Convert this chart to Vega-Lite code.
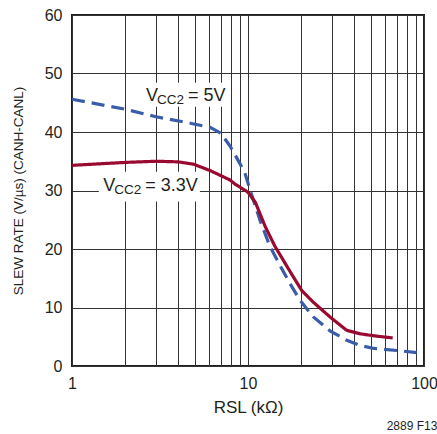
{
  "$schema": "https://vega.github.io/schema/vega-lite/v6.json",
  "width": 352,
  "height": 351,
  "autosize": {"type": "none"},
  "padding": {"left": 72, "top": 15, "right": 13, "bottom": 68},
  "config": {
    "view": {"stroke": "#231f20", "strokeWidth": 2},
    "font": "Liberation Sans",
    "axis": {
      "grid": true, "gridColor": "#333333", "gridWidth": 1, "gridOpacity": 1,
      "domain": false, "ticks": false,
      "labelFont": "Liberation Sans", "labelFontSize": 16, "labelColor": "#231f20",
      "titleFont": "Liberation Sans", "titleFontWeight": "normal", "titleColor": "#231f20"
    }
  },
  "title": {"text": "2889 F13", "orient": "bottom", "anchor": "end", "fontSize": 12, "fontWeight": "normal", "color": "#231f20", "offset": 6, "font": "Liberation Sans"},
  "datasets": {
    "curves": [
      {"series": "5V", "rsl": 1, "slew": 45.6},
      {"series": "5V", "rsl": 2, "slew": 43.9},
      {"series": "5V", "rsl": 3, "slew": 42.6},
      {"series": "5V", "rsl": 4.7, "slew": 41.5},
      {"series": "5V", "rsl": 6.1, "slew": 40.8},
      {"series": "5V", "rsl": 7, "slew": 39.8},
      {"series": "5V", "rsl": 7.9, "slew": 37.6},
      {"series": "5V", "rsl": 9, "slew": 34.6},
      {"series": "5V", "rsl": 9.6, "slew": 33.0},
      {"series": "5V", "rsl": 10.3, "slew": 30},
      {"series": "5V", "rsl": 11.7, "slew": 24.9},
      {"series": "5V", "rsl": 13.3, "slew": 20.5},
      {"series": "5V", "rsl": 15.2, "slew": 17.2},
      {"series": "5V", "rsl": 17.3, "slew": 14.1},
      {"series": "5V", "rsl": 19.8, "slew": 11.2},
      {"series": "5V", "rsl": 23.5, "slew": 8.4},
      {"series": "5V", "rsl": 29.2, "slew": 6.0},
      {"series": "5V", "rsl": 36.4, "slew": 4.4},
      {"series": "5V", "rsl": 43.3, "slew": 3.5},
      {"series": "5V", "rsl": 52, "slew": 3.0},
      {"series": "5V", "rsl": 73, "slew": 2.6},
      {"series": "5V", "rsl": 97, "slew": 2.2},
      {"series": "3.3V", "rsl": 1, "slew": 34.3},
      {"series": "3.3V", "rsl": 2, "slew": 34.8},
      {"series": "3.3V", "rsl": 3, "slew": 35.0},
      {"series": "3.3V", "rsl": 4, "slew": 34.9},
      {"series": "3.3V", "rsl": 4.9, "slew": 34.5},
      {"series": "3.3V", "rsl": 6.1, "slew": 33.4},
      {"series": "3.3V", "rsl": 7.9, "slew": 31.8},
      {"series": "3.3V", "rsl": 8.44, "slew": 31.1},
      {"series": "3.3V", "rsl": 10, "slew": 29.7},
      {"series": "3.3V", "rsl": 11, "slew": 28},
      {"series": "3.3V", "rsl": 12.5, "slew": 23.9},
      {"series": "3.3V", "rsl": 14.2, "slew": 20.5},
      {"series": "3.3V", "rsl": 17.3, "slew": 16.2},
      {"series": "3.3V", "rsl": 20.2, "slew": 12.9},
      {"series": "3.3V", "rsl": 23.5, "slew": 10.9},
      {"series": "3.3V", "rsl": 29.2, "slew": 8.4},
      {"series": "3.3V", "rsl": 36.4, "slew": 6.1},
      {"series": "3.3V", "rsl": 43.3, "slew": 5.5},
      {"series": "3.3V", "rsl": 54, "slew": 5.1},
      {"series": "3.3V", "rsl": 66.4, "slew": 4.8}
    ],
    "labels": [
      {"series": "5V", "rsl": 2.63, "slew": 45.3, "rest": "= 5V", "x1": 2.43, "x2": 7.2, "y1": 44.3, "y2": 48.4},
      {"series": "3.3V", "rsl": 1.506, "slew": 29.9, "rest": "= 3.3V", "x1": 1.42, "x2": 5.33, "y1": 28.1, "y2": 33.2}
    ]
  },
  "layer": [
    {
      "data": {"name": "labels"},
      "mark": {"type": "rect", "fill": "white"},
      "encoding": {
        "x": {"field": "x1", "type": "quantitative", "scale": {"type": "log", "domain": [1, 100], "nice": false}},
        "x2": {"field": "x2"},
        "y": {"field": "y1", "type": "quantitative"},
        "y2": {"field": "y2"}
      }
    },
    {
      "data": {"name": "curves"},
      "mark": {"type": "line", "interpolate": "linear", "strokeWidth": 3.2, "strokeJoin": "round"},
      "encoding": {
        "x": {
          "field": "rsl", "type": "quantitative",
          "scale": {"type": "log", "domain": [1, 100], "nice": false},
          "axis": {
            "values": [1, 2, 3, 4, 5, 6, 7, 8, 9, 10, 20, 30, 40, 50, 60, 70, 80, 90, 100],
            "labelExpr": "datum.value == 1 || datum.value == 10 || datum.value == 100 ? format(datum.value, 'd') : ''",
            "labelOverlap": false, "labelFlush": false, "labelPadding": 9,
            "title": "RSL (kΩ)", "titleFontSize": 17, "titlePadding": 8
          }
        },
        "y": {
          "field": "slew", "type": "quantitative",
          "scale": {"domain": [0, 60], "nice": false},
          "axis": {
            "values": [0, 10, 20, 30, 40, 50, 60],
            "labelPadding": 10,
            "title": "SLEW RATE (V/µs) (CANH-CANL)", "titleFontSize": 13.5, "titlePadding": 19
          }
        },
        "color": {"field": "series", "type": "nominal", "scale": {"domain": ["5V", "3.3V"], "range": ["#3b5ca8", "#9a0a30"]}, "legend": null},
        "strokeDash": {"field": "series", "type": "nominal", "scale": {"domain": ["5V", "3.3V"], "range": [[13, 7], [1, 0]]}, "legend": null}
      }
    },
    {
      "data": {"name": "labels"},
      "mark": {"type": "text", "align": "left", "baseline": "alphabetic", "fontSize": 18, "color": "#231f20", "text": "V"},
      "encoding": {
        "x": {"field": "rsl", "type": "quantitative"},
        "y": {"field": "slew", "type": "quantitative"}
      }
    },
    {
      "data": {"name": "labels"},
      "mark": {"type": "text", "align": "left", "baseline": "alphabetic", "fontSize": 13.5, "color": "#231f20", "text": "CC2", "dx": 11, "dy": 3},
      "encoding": {
        "x": {"field": "rsl", "type": "quantitative"},
        "y": {"field": "slew", "type": "quantitative"}
      }
    },
    {
      "data": {"name": "labels"},
      "mark": {"type": "text", "align": "left", "baseline": "alphabetic", "fontSize": 18, "color": "#231f20", "dx": 42},
      "encoding": {
        "x": {"field": "rsl", "type": "quantitative"},
        "y": {"field": "slew", "type": "quantitative"},
        "text": {"field": "rest"}
      }
    }
  ]
}
